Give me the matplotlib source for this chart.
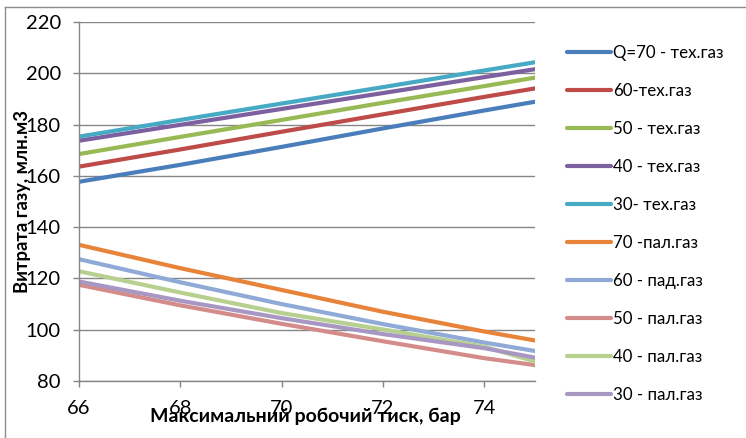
import matplotlib
matplotlib.use("Agg")
import matplotlib.pyplot as plt
from matplotlib.lines import Line2D

plt.rcParams['font.family'] = ['Lato', 'Open Sans', 'DejaVu Sans']

pressure = [66, 68, 70, 72, 74, 75]

labels = ["Q=70 - тех.газ", "60-тех.газ", "50 - тех.газ", "40 - тех.газ", "30- тех.газ",
          "70 -пал.газ", "60 - пад.газ", "50 - пал.газ", "40 - пал.газ", "30 - пал.газ"]

q70_tech = [157.7, 164.3, 171.3, 178.5, 185.5, 188.9]
q60_tech = [163.6, 170.3, 177.2, 184.0, 190.8, 194.1]
q50_tech = [168.5, 175.2, 181.8, 188.5, 195.0, 198.3]
q40_tech = [173.7, 179.9, 186.1, 192.3, 198.5, 201.6]
q30_tech = [175.3, 181.8, 188.2, 194.6, 201.1, 204.3]
q70_fuel = [133.1, 124.0, 115.5, 107.0, 99.3, 95.8]
q60_fuel = [127.5, 118.5, 110.0, 102.2, 95.0, 91.7]
q50_fuel = [117.5, 109.5, 102.3, 95.5, 88.9, 86.2]
q40_fuel = [122.8, 114.5, 106.5, 100.1, 93.4, 87.6]
q30_fuel = [118.8, 111.3, 104.5, 98.3, 92.8, 89.1]

series = [q70_tech, q60_tech, q50_tech, q40_tech, q30_tech,
          q70_fuel, q60_fuel, q50_fuel, q40_fuel, q30_fuel]
colors = ["#4A7EBB", "#BE4B48", "#98B954", "#7D60A0", "#46AAC5",
          "#E8833A", "#8FAAD6", "#D48C8A", "#B8D08F", "#A797C2"]

fig = plt.figure(figsize=(7.46, 4.38), dpi=100)
ax = fig.add_axes([79/746, 1-381/438, (535-79)/746, (381-22)/438])

for vals, c, lab in zip(series, colors, labels):
    ax.plot(pressure, vals, color=c, lw=3.0, label=lab, solid_capstyle='round',
            solid_joinstyle='round')

ax.set_xlim(66, 75)
ax.set_ylim(80, 220)
ax.set_xticks([66, 68, 70, 72, 74])
ax.set_yticks(range(80, 221, 20))
ax.grid(axis='y', color='#868686', lw=1.0)
ax.set_axisbelow(True)
for s in ['top', 'right']:
    ax.spines[s].set_visible(False)
for s in ['left', 'bottom']:
    ax.spines[s].set_color('#868686')
    ax.spines[s].set_linewidth(1.0)
ax.tick_params(axis='both', direction='out', length=4, color='#868686', width=1.0,
               labelsize=14.5, labelcolor='black')
ax.tick_params(axis='x', pad=10)
ax.tick_params(axis='y', pad=9)

ax.set_xlabel("Максимальний робочий тиск, бар", fontsize=14, fontweight='bold')
ax.xaxis.label.set_va('center')
ax.xaxis.set_label_coords(0.4956, -0.0975)
ax.set_ylabel("Витрата газу, млн.м3", fontsize=13.3, fontweight='bold')
ax.yaxis.label.set_va('center')
ax.yaxis.set_label_coords(-0.123, 0.5)

leg = fig.legend(loc='upper left', bbox_to_anchor=(567/746, 1-45/438), frameon=False,
                 fontsize=12.2, handlelength=2.6, handletextpad=0.1, labelspacing=1.3,
                 borderaxespad=0, borderpad=0)
for h in leg.get_lines():
    h.set_linewidth(3.0)
    h.set_solid_capstyle('round')

fig.add_artist(Line2D([5/746, 5/746], [0, 1-7/438], color='#8c8c8c', lw=1.0,
                      transform=fig.transFigure))
fig.add_artist(Line2D([5/746, 1], [1-7/438, 1-7/438], color='#8c8c8c', lw=1.0,
                      transform=fig.transFigure))

fig.savefig("out.png", dpi=100)
